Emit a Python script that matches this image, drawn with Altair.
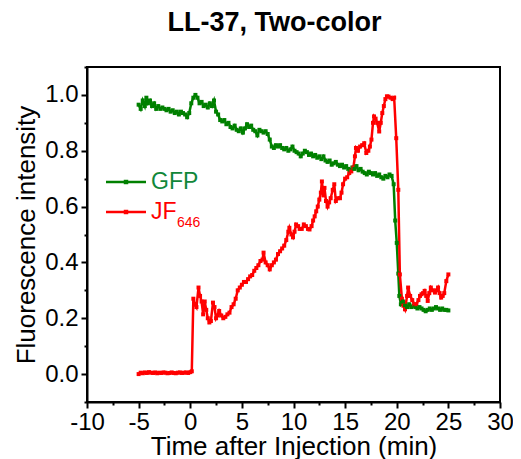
import altair as alt
import pandas as pd

# ---- data ----
gfp_t = [-5.0, -4.8, -4.6, -4.4, -4.25, -4.1, -3.9, -3.7, -3.5, -3.3, -3.1, -2.9, -2.7, -2.5, -2.3, -2.1,
         -1.9, -1.7, -1.5, -1.3, -1.1, -0.9, -0.7, -0.5, -0.3, -0.1, 0.1, 0.3, 0.5, 0.7, 0.9, 1.1, 1.3,
         1.5, 1.7, 1.9, 2.1, 2.3, 2.5, 2.7, 2.9, 3.1, 3.3, 3.5, 3.7, 3.9, 4.1, 4.3, 4.5, 4.7, 4.9, 5.1,
         5.3, 5.5, 5.7, 5.9, 6.1, 6.3, 6.5, 6.7, 6.9, 7.1, 7.3, 7.5, 7.7, 7.9, 8.1, 8.3, 8.5, 8.7, 8.9,
         9.1, 9.3, 9.5, 9.7, 9.9, 10.1, 10.3, 10.5, 10.7, 10.9, 11.1, 11.3, 11.5, 11.7, 11.9, 12.1, 12.3,
         12.5, 12.7, 12.9, 13.1, 13.3, 13.5, 13.7, 13.9, 14.1, 14.3, 14.5, 14.7, 14.9, 15.1, 15.3, 15.5,
         15.7, 15.9, 16.1, 16.3, 16.5, 16.7, 16.9, 17.1, 17.3, 17.5, 17.7, 17.9, 18.1, 18.3, 18.5, 18.7,
         18.9, 19.1, 19.3, 19.5, 19.7, 19.85, 20.0, 20.15, 20.25, 20.4, 20.6, 20.8, 21.0, 21.2, 21.4, 21.6,
         21.8, 22.0, 22.2, 22.4, 22.6, 22.8, 23.0, 23.2, 23.4, 23.6, 23.8, 24.0, 24.2, 24.4, 24.6, 24.8, 25.0]
gfp_v = [0.965, 0.95, 0.98, 0.96, 0.99, 0.97, 0.98, 0.96, 0.97, 0.95, 0.96, 0.95, 0.955, 0.95, 0.945, 0.95,
         0.94, 0.945, 0.935, 0.94, 0.93, 0.94, 0.935, 0.93, 0.92, 0.935, 0.97, 0.99, 1.0, 0.99, 0.97, 0.975, 0.96,
         0.965, 0.955, 0.97, 0.96, 0.98, 0.94, 0.93, 0.91, 0.905, 0.91, 0.895, 0.9, 0.885, 0.88, 0.89, 0.875, 0.87, 0.88, 0.865,
         0.88, 0.895, 0.885, 0.89, 0.875, 0.87, 0.855, 0.875, 0.87, 0.865, 0.87, 0.86, 0.84, 0.815, 0.81, 0.82, 0.815, 0.82, 0.81,
         0.805, 0.81, 0.8, 0.805, 0.815, 0.8, 0.795, 0.79, 0.78, 0.79, 0.8, 0.795, 0.785, 0.79, 0.78, 0.785, 0.775,
         0.78, 0.77, 0.78, 0.765, 0.76, 0.765, 0.75, 0.755, 0.76, 0.75, 0.745, 0.75, 0.74, 0.745, 0.735, 0.73,
         0.74, 0.735, 0.745, 0.73, 0.735, 0.725, 0.72, 0.715, 0.725, 0.72, 0.715, 0.72, 0.71, 0.715, 0.705, 0.7,
         0.71, 0.705, 0.715, 0.71, 0.68, 0.55, 0.47, 0.36, 0.28, 0.25, 0.26, 0.245, 0.24, 0.25, 0.24, 0.245,
         0.24, 0.235, 0.24, 0.235, 0.23, 0.225, 0.23, 0.235, 0.23, 0.235, 0.24, 0.235, 0.23, 0.235, 0.23, 0.23, 0.228]

jf_t = [-5.0, -4.8, -4.6, -4.4, -4.2, -4.0, -3.8, -3.6, -3.4, -3.2, -3.0, -2.8, -2.6, -2.4, -2.2, -2.0,
        -1.8, -1.6, -1.4, -1.2, -1.0, -0.8, -0.6, -0.4, -0.2, 0.0, 0.15, 0.3, 0.45, 0.6, 0.8, 0.95, 1.1,
        1.25, 1.4, 1.55, 1.7, 1.85, 2.0, 2.2, 2.35, 2.5, 2.65, 2.8, 3.0, 3.2, 3.4, 3.6, 3.8, 4.0, 4.2, 4.4,
        4.6, 4.8, 5.0, 5.2, 5.4, 5.6, 5.8, 6.0, 6.2, 6.4, 6.6, 6.8, 7.0, 7.1, 7.3, 7.5, 7.7, 7.9, 8.1, 8.3,
        8.5, 8.7, 8.9, 9.1, 9.3, 9.5, 9.6, 9.8, 9.95, 10.1, 10.25, 10.45, 10.6, 10.8, 11.0, 11.2, 11.4, 11.55,
        11.75, 11.9, 12.05, 12.2, 12.35, 12.5, 12.65, 12.75, 12.9, 13.0, 13.15, 13.3, 13.45, 13.6, 13.8, 13.95,
        14.1, 14.3, 14.5, 14.65, 14.8, 15.0, 15.2, 15.4, 15.6, 15.8, 15.95, 16.05, 16.25, 16.45, 16.65, 16.85,
        17.05, 17.25, 17.4, 17.55, 17.7, 17.8, 17.95, 18.1, 18.3, 18.45, 18.6, 18.75, 18.9, 19.05, 19.2, 19.4,
        19.6, 19.75, 19.95, 20.15, 20.3, 20.5, 20.65, 20.8, 21.0, 21.1, 21.3, 21.5, 21.7, 21.9, 22.1, 22.25,
        22.4, 22.55, 22.7, 22.85, 23.0, 23.15, 23.3, 23.5, 23.7, 23.85, 24.0, 24.15, 24.3, 24.45, 24.6, 24.8, 25.0]
jf_v = [0.0, 0.005, 0.003, 0.006, 0.004, 0.007, 0.005, 0.004, 0.006, 0.003, 0.005, 0.004, 0.006, 0.005, 0.003, 0.004,
        0.006, 0.004, 0.003, 0.005, 0.006, 0.004, 0.005, 0.006, 0.004, 0.007, 0.01, 0.27, 0.25, 0.24, 0.31, 0.28, 0.26,
        0.214, 0.26, 0.23, 0.2, 0.185, 0.19, 0.256, 0.24, 0.2, 0.21, 0.226, 0.21, 0.2, 0.205, 0.214, 0.22, 0.24, 0.25, 0.27,
        0.3, 0.31, 0.32, 0.33, 0.33, 0.34, 0.35, 0.355, 0.37, 0.38, 0.39, 0.405, 0.41, 0.435, 0.4, 0.39, 0.375, 0.39, 0.4, 0.41,
        0.43, 0.44, 0.45, 0.46, 0.48, 0.51, 0.524, 0.5, 0.49, 0.51, 0.536, 0.53, 0.52, 0.52, 0.536, 0.53, 0.52, 0.518,
        0.53, 0.55, 0.565, 0.583, 0.6, 0.625, 0.65, 0.69, 0.64, 0.667, 0.62, 0.6, 0.615, 0.63, 0.66, 0.68,
        0.62, 0.63, 0.63, 0.65, 0.68, 0.7, 0.705, 0.72, 0.726, 0.74, 0.78, 0.81, 0.8, 0.815, 0.82, 0.827,
        0.792, 0.8, 0.815, 0.84, 0.9, 0.923, 0.915, 0.9, 0.869, 0.9, 0.935, 0.96, 0.985, 0.995, 0.994, 0.99,
        0.985, 0.99, 0.845, 0.66, 0.357, 0.27, 0.245, 0.232, 0.28, 0.31, 0.28, 0.265, 0.25, 0.25, 0.265, 0.28,
        0.286, 0.29, 0.298, 0.28, 0.262, 0.29, 0.31, 0.3, 0.292, 0.3, 0.31, 0.29, 0.274, 0.28, 0.29, 0.333, 0.357]

series_names = ["GFP", "JF646"]
series_colors = ["#008000", "#ff0000"]
legend_labels = ["GFP", "JF"]
legend_sub = ["646"]
x_ticks = [-10 + 2.5 * i for i in range(17)]
y_ticks = [round(-0.1 + 0.1 * i, 1) for i in range(13)]

df = pd.concat([
    pd.DataFrame({"t": gfp_t, "v": gfp_v, "s": "GFP"}),
    pd.DataFrame({"t": jf_t, "v": jf_v, "s": "JF646"}),
])

FONT = "Liberation Sans"
x_scale = alt.Scale(domain=[-10, 30], nice=False, zero=False)
y_scale = alt.Scale(domain=[-0.1, 1.1], nice=False, zero=False)
y_major = "abs(datum.value*5 - round(datum.value*5)) < 0.001"

common_axis = dict(
    labelOverlap=False, labelFlush=False, grid=False,
    labelFontSize=24, labelFont=FONT, titleFont=FONT,
    titleFontWeight="normal", labelColor="black", titleColor="black",
    domainColor="black", domainWidth=2, tickColor="black", tickWidth=2,
)
x_axis = alt.Axis(
    values=x_ticks, title="Time after Injection (min)", titleFontSize=26,
    labelExpr="datum.value % 5 == 0 ? toString(datum.value) : ''",
    tickSize={"condition": {"test": "datum.value % 5 == 0", "value": 6}, "value": 3},
    labelPadding=2, titlePadding=-1, **common_axis,
)
y_axis = alt.Axis(
    values=y_ticks, title="Fluorescence intensity", titleFontSize=26,
    labelExpr=y_major + " ? format(datum.value, '.1f') : ''",
    tickSize={"condition": {"test": y_major, "value": 6}, "value": 3},
    labelPadding=3, titlePadding=5, **common_axis,
)

color_scale = alt.Scale(domain=series_names, range=series_colors)

lines = alt.Chart(df).mark_line(
    strokeWidth=2.5, point=alt.OverlayMarkDef(shape="square", size=16, filled=True)
).encode(
    x=alt.X("t:Q", scale=x_scale, axis=x_axis),
    y=alt.Y("v:Q", scale=y_scale, axis=y_axis),
    color=alt.Color("s:N", scale=color_scale, legend=None),
    detail="s:N",
    order="t:Q",
)

# manual legend (drawn inside the plot, as in the reference)
leg_df = pd.DataFrame({"s": series_names, "lab": legend_labels, "row": [0, 1]})
leg_y = alt.Y("row:Q", scale=alt.Scale(domain=[0, 1], range=[115, 145]), axis=None)
leg_line = alt.Chart(leg_df).mark_rule(strokeWidth=2.5).encode(
    x=alt.value(19), x2=alt.value(59), y=leg_y,
    color=alt.Color("s:N", scale=color_scale, legend=None),
)
leg_pt = alt.Chart(leg_df).mark_point(shape="square", size=20, filled=True, opacity=1).encode(
    x=alt.value(39), y=leg_y,
    color=alt.Color("s:N", scale=color_scale, legend=None),
)
leg_txt = alt.Chart(leg_df).mark_text(align="left", baseline="middle", fontSize=23, font=FONT).encode(
    x=alt.value(64), y=leg_y, text="lab:N",
    color=alt.Color("s:N", scale=alt.Scale(domain=series_names, range=["#11873a", "#ff0000"]), legend=None),
)
sub_df = pd.DataFrame({"sub": legend_sub})
leg_sub = alt.Chart(sub_df).mark_text(align="left", baseline="middle", fontSize=14, font=FONT, color="#ff0000").encode(
    x=alt.value(90), y=alt.value(156), text="sub:N",
)

chart = alt.layer(lines, leg_line, leg_pt, leg_txt, leg_sub).resolve_scale(
    color="independent", y="independent"
).properties(
    width=413, height=335,
    title=alt.TitleParams("LL-37, Two-color", font=FONT, fontSize=27, fontWeight="bold",
                          color="black", anchor="middle", dx=-19, offset=18),
    autosize=alt.AutoSizeParams(type="none"),
    padding={"left": 79, "top": 59, "right": 13, "bottom": 57},
).configure_view(stroke="black", strokeWidth=2)

chart.save("out.html", embed_options={"renderer": "svg", "actions": False})
